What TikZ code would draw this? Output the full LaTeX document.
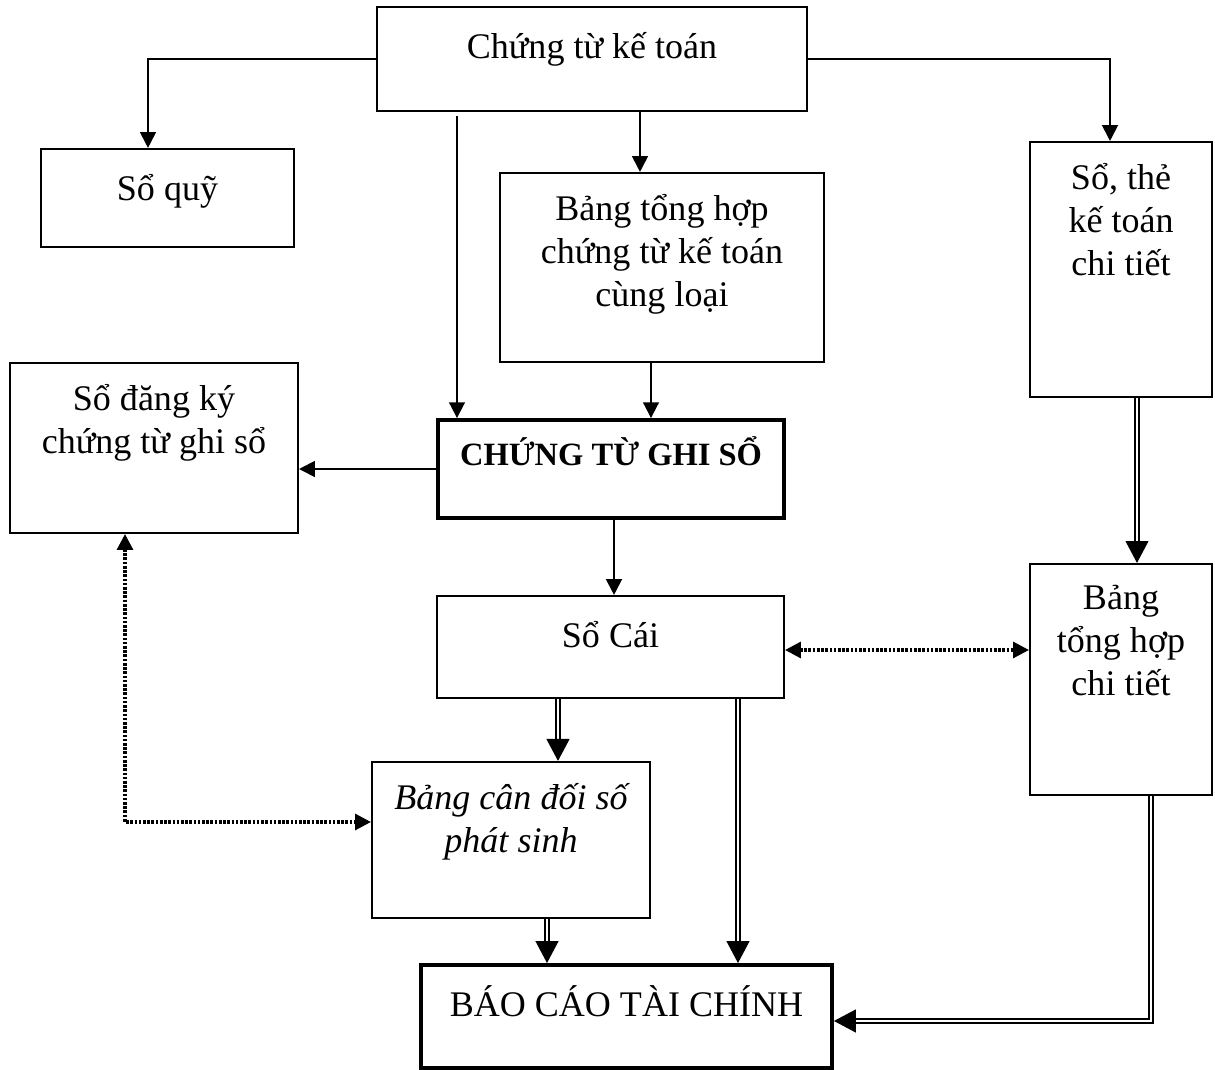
\documentclass[tikz,border=0pt]{standalone}
\usepackage{fontspec}
\setmainfont{Liberation Serif}
\usetikzlibrary{calc,arrows.meta}
\newcommand{\cothuong}{\fontsize{20.5}{24.4}\selectfont}
\newcommand{\codam}{\fontsize{18.5}{24.4}\selectfont\bfseries}
\tikzset{
  khung/.style={draw, line width=1.2pt, inner sep=0pt},
  khungdam/.style={draw, line width=2.2pt, inner sep=0pt},
  chu/.style={anchor=north, inner sep=0pt, yshift=-12.5pt, align=center,
    font=\cothuong, execute at begin node=\strut},
  muiten/.style={line width=1.1pt, -{Triangle[length=9pt,width=9pt]}},
  muitenkep/.style={line width=0.9pt, double, double distance=1.4pt,
    -{Triangle[length=12.5pt,width=13pt]}},
  chamhai/.style={line width=1.8pt, dash pattern=on 1.5pt off 0.9pt,
    {Triangle[length=9pt,width=9pt]}-{Triangle[length=9pt,width=9pt]}}
}

\begin{document}
\begin{tikzpicture}[x=0.02cm, y=-0.02cm]
  \useasboundingbox (0,0) rectangle (1215,1070);

  % cac khung
  \node[khung, minimum width=8.6cm, minimum height=2.08cm,
    label={[chu]north:Chứng từ kế toán}] (ctkt) at (592,59) {};
  \node[khung, minimum width=5.06cm, minimum height=1.96cm,
    label={[chu]north:Sổ quỹ}] (soquy) at (167.5,198) {};
  \node[khung, minimum width=6.48cm, minimum height=3.78cm,
    label={[chu]north:{Bảng tổng hợp\\chứng từ kế toán\\cùng loại}}] (bangth) at (662,267.5) {};
  \node[khung, minimum width=3.64cm, minimum height=5.1cm,
    label={[chu]north:{Sổ, thẻ\\kế toán\\chi tiết}}] (sothe) at (1121,269.5) {};
  \node[khung, minimum width=5.76cm, minimum height=3.4cm,
    label={[chu]north:{Sổ đăng ký\\chứng từ ghi sổ}}] (sodk) at (154,448) {};
  \node[khungdam, minimum width=6.92cm, minimum height=1.96cm,
    label={[chu, font=\codam, yshift=3pt]north:CHỨNG TỪ GHI SỔ}] (ctgs) at (611,469) {};
  \node[khung, minimum width=6.94cm, minimum height=2.04cm,
    label={[chu]north:Sổ Cái}] (socai) at (610.5,647) {};
  \node[khung, minimum width=3.64cm, minimum height=4.62cm,
    label={[chu]north:{Bảng\\tổng hợp\\chi tiết}}] (bthct) at (1121,679.5) {};
  \node[khung, minimum width=5.56cm, minimum height=3.12cm,
    label={[chu, font=\cothuong\itshape]north:{Bảng cân đối số\\phát sinh}}] (bcd) at (511,840) {};
  \node[khungdam, minimum width=8.22cm, minimum height=2.06cm,
    label={[chu]north:BÁO CÁO TÀI CHÍNH}] (bctc) at (626.5,1016.5) {};

  % mui ten don
  \draw[muiten] (ctkt.west) -| ($(soquy.north)+(-19.5,0)$);
  \draw[muiten] (ctkt.east) -| ($(sothe.north)+(-11,0)$);
  \draw[muiten] ($(ctgs.north)+(-154,-302)$) -- ($(ctgs.north)+(-154,0)$);
  \draw[muiten] ($(ctkt.south)+(48,0)$) -- ($(bangth.north)+(-22,0)$);
  \draw[muiten] ($(bangth.south)+(-11,0)$) -- ($(ctgs.north)+(40,0)$);
  \draw[muiten] (ctgs.west) -- (ctgs.west -| sodk.east);
  \draw[muiten] ($(ctgs.south)+(3,0)$) -- ($(socai.north)+(3.5,0)$);

  % mui ten kep
  \draw[muitenkep] ($(sothe.south)+(16,0)$) -- ($(bthct.north)+(16,0)$);
  \draw[muitenkep] ($(socai.south)+(-52.5,0)$) -- ($(bcd.north)+(47,0)$);
  \draw[muitenkep] ($(socai.south)+(127.5,0)$) -- ($(bctc.north)+(111.5,0)$);
  \draw[muitenkep] ($(bcd.south)+(36,0)$) -- ($(bctc.north)+(-79.5,0)$);
  \draw[muitenkep] ($(bthct.south)+(30,0)$) |- ($(bctc.east)+(0,4.5)$);

  % doi chieu
  \draw[chamhai] ($(socai.east)+(0,3)$) -- ($(socai.east -| bthct.west)+(0,3)$);
  \draw[chamhai] ($(sodk.south)+(-29,0)$) |- ($(bcd.west)+(0,-18)$);
\end{tikzpicture}
\end{document}
